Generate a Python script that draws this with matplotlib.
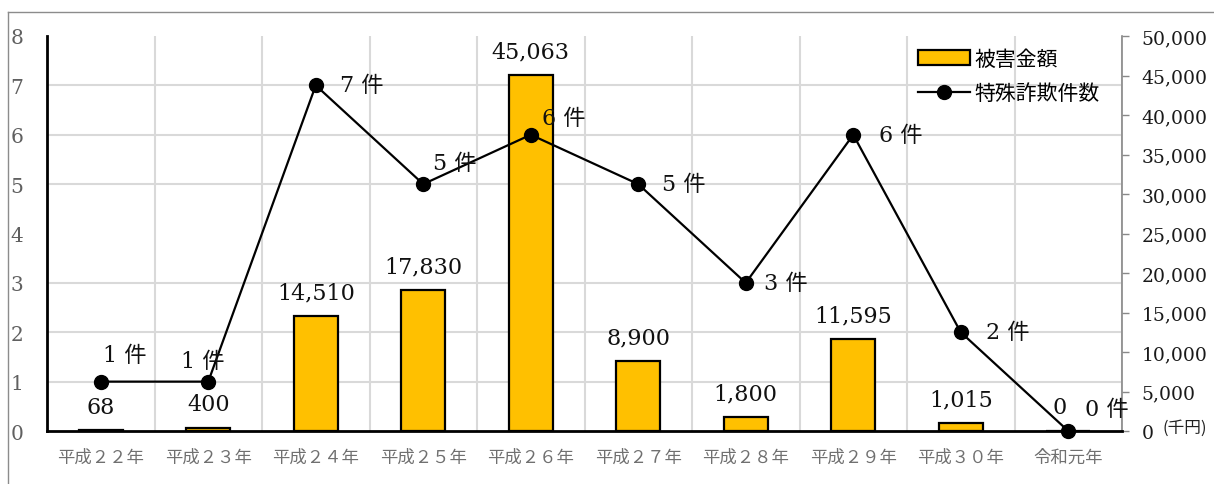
import matplotlib
matplotlib.use('Agg')
import matplotlib.pyplot as plt
import numpy as np
from matplotlib.lines import Line2D

categories = ['平成２２年', '平成２３年', '平成２４年', '平成２５年', '平成２６年',
              '平成２７年', '平成２８年', '平成２９年', '平成３０年', '令和元年']
damage = [68, 400, 14510, 17830, 45063, 8900, 1800, 11595, 1015, 0]
cases = [1, 1, 7, 5, 6, 5, 3, 6, 2, 0]
damage_labels = ['68', '400', '14,510', '17,830', '45,063', '8,900', '1,800', '11,595', '1,015', '0']
case_labels = [f'{c} 件' for c in cases]
amount_ticks = list(range(0, 50001, 5000))
amount_tick_labels = [f'{v:,}' for v in amount_ticks]
count_ticks = list(range(0, 9))
series_names = ['被害金額', '特殊詐欺件数']

SERIF = ['DejaVu Serif', 'Noto Sans CJK JP']
CJK = ['Noto Sans CJK JP', 'DejaVu Sans']

W, H = 1214, 485
fig = plt.figure(figsize=(W / 100, H / 100), dpi=100)
ax = fig.add_axes([47 / W, 1 - 432 / H, 1075 / W, 395 / H])
ax2 = ax.twinx()

x = np.arange(len(categories))
bars = ax.bar(x, damage, width=0.41, color='#FFC000', edgecolor='black',
              linewidth=1.6, zorder=2, label=series_names[0])
ax.set_xlim(-0.5, len(categories) - 0.5)
ax.set_ylim(0, 50000)

# right axis (amount) -- belongs to the bar axes
ax.yaxis.tick_right()
ax.yaxis.set_label_position('right')
ax.set_yticks(amount_ticks)
ax.set_yticklabels(amount_tick_labels, family=SERIF, fontsize=13.5, color='#1a1a1a')
ax.tick_params(axis='y', which='major', direction='out', length=5, width=1,
               color='#888888', pad=9, left=False, labelleft=False,
               right=True, labelright=True)
# grid lines aligned with count axis
ymax_count = count_ticks[-1]
ax.set_yticks([c * 50000 / ymax_count for c in count_ticks], minor=True)
ax.set_xticks(np.arange(-0.5, len(categories), 1), minor=True)
ax.tick_params(which='minor', length=0)
ax.grid(which='minor', axis='both', color='#d9d9d9', lw=1.5, zorder=0)
ax.set_axisbelow(True)

ax.set_xticks(x)
ax.set_xticklabels(categories, family=CJK, fontsize=12.5, color='#707070')
ax.tick_params(axis='x', which='major', length=0, pad=12)

ax.spines['top'].set_visible(False)
ax.spines['left'].set_color('black')
ax.spines['left'].set_linewidth(2)
ax.spines['bottom'].set_color('black')
ax.spines['bottom'].set_linewidth(2)
ax.spines['right'].set_color('#888888')
ax.spines['right'].set_linewidth(1.2)

for xi, v, lab in zip(x, damage, damage_labels):
    dx = -6 if v == 0 else 0
    ax.annotate(lab, xy=(xi, v), xytext=(dx, 17), textcoords='offset points',
                ha='center', va='center', fontsize=16, family=SERIF, color='#111111')

ax.annotate('(千円)', xy=(1, 0), xycoords='axes fraction', xytext=(29, 3),
            textcoords='offset points', ha='left', va='center', fontsize=12,
            family=CJK, color='#222222')

# left axis (count) on top
line, = ax2.plot(x, cases, color='black', lw=1.6, marker='o', ms=10, zorder=3,
                 clip_on=False, label=series_names[1])
ax2.set_ylim(0, ymax_count)
ax2.yaxis.set_label_position('left')
ax2.set_yticks(count_ticks)
ax2.set_yticklabels([str(c) for c in count_ticks], family=SERIF, fontsize=14.5, color='#606060')
ax2.tick_params(axis='y', length=0, pad=17, left=True, labelleft=True,
                right=False, labelright=False)
for s in ax2.spines.values():
    s.set_visible(False)

offsets = [(17, 19), (-4, 15), (33, 0), (23, 15), (24, 12), (33, 0), (29, 0), (34, 0), (34, 0), (28, 16)]
for xi, v, lab, off in zip(x, cases, case_labels, offsets):
    ax2.annotate(lab, xy=(xi, v), xytext=off, textcoords='offset points',
                 ha='center', va='center', fontsize=16, family=SERIF, color='#111111')

leg = ax2.legend(handles=[bars, line], loc='upper right', bbox_to_anchor=(0.99, 1.0),
                 frameon=False, prop={'family': CJK, 'size': 15}, handlelength=2.5,
                 handleheight=0.75, labelspacing=0.6, handletextpad=0.2, borderaxespad=0.15)

# outer frame lines
fig.add_artist(Line2D([8 / W, 1], [1 - 13 / H, 1 - 13 / H], transform=fig.transFigure,
                      color='#8c8c8c', lw=1))
fig.add_artist(Line2D([8 / W, 8 / W], [0, 1 - 13 / H], transform=fig.transFigure,
                      color='#8c8c8c', lw=1))

fig.savefig('out.png', dpi=100)
